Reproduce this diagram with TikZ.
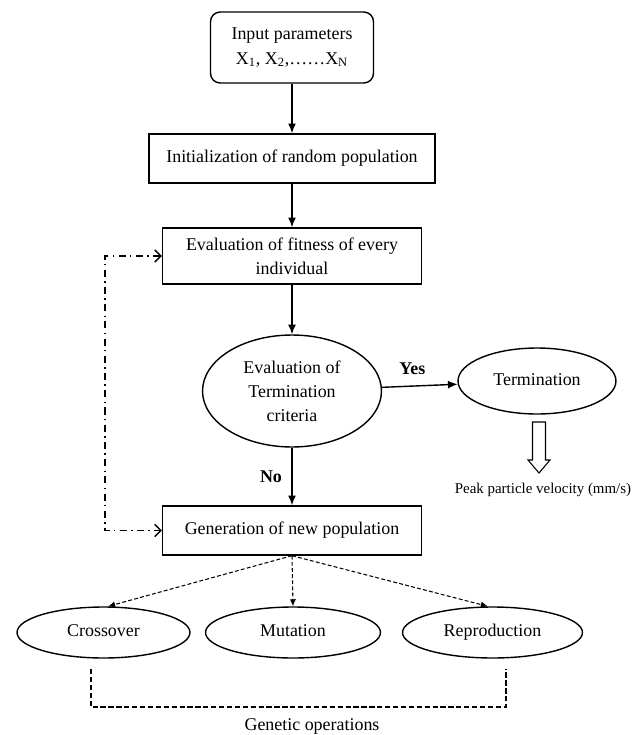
\documentclass[tikz,border=0pt]{standalone}
\usepackage{fontspec}
\setmainfont{Liberation Serif}
\usepackage{tikz}
\usetikzlibrary{arrows.meta,shapes.geometric,calc}

\begin{document}
\begin{tikzpicture}[x=0.02cm, y=-0.02cm, line width=0.8pt,
	font=\fontsize{10.2}{13.7}\selectfont,
	box/.style={draw, rectangle, inner sep=0pt, align=center},
	oval/.style={draw, ellipse, inner sep=0pt, align=center},
	one/.style={text height=7pt, text depth=2pt},
	arr/.style={-{Latex[length=5.5pt,width=4.5pt]}},
	darr/.style={-{Latex[length=4pt,width=3.5pt]}, line width=0.6pt, dash pattern=on 2.2pt off 1.3pt},
	loopline/.style={{Straight Barb[length=3.5pt,width=7pt]}-{Straight Barb[length=3.5pt,width=7pt]}, dash pattern=on 4pt off 2.5pt on 0.8pt off 2.5pt}]
	\useasboundingbox (0,0) rectangle (643,735);
	\node[box, rounded corners=5.5pt, minimum width=3.26cm, minimum height=1.42cm] (input) at (292,47.5) {Input parameters\\X\textsubscript{1}, X\textsubscript{2},……X\textsubscript{N}};
	\node[box, one, minimum width=5.72cm, minimum height=0.98cm] (init) at (292,158.5) {Initialization of random population};
	\node[box, minimum width=5.18cm, minimum height=1.12cm] (fit) at (292,256) {Evaluation of fitness of every\\individual};
	\node[oval, minimum width=3.58cm, minimum height=2.24cm] (eval) at (292,391) {Evaluation of\\Termination\\criteria};
	\node[oval, one, minimum width=3.16cm, minimum height=1.32cm] (term) at (537,381) {Termination};
	\node[box, one, minimum width=5.18cm, minimum height=0.98cm] (gen) at (292,530.5) {Generation of new population};
	\node[oval, one, minimum width=3.46cm, minimum height=1.02cm] (cross) at (103.5,632.5) {Crossover};
	\node[oval, one, minimum width=3.5cm, minimum height=1.02cm] (mut) at (293,632.5) {Mutation};
	\node[oval, one, minimum width=3.6cm, minimum height=1.02cm] (repro) at (492.5,632.5) {Reproduction};
	\node[font=\fontsize{8.5}{10}\selectfont] (ppv) at (543,490) {Peak particle velocity (mm/s)};
	\node (genop) at (312,726) {Genetic operations};
	\coordinate (loop) at (105,256);
	\coordinate (pk) at (539,422);
	\coordinate (opl) at (91,669);
	\coordinate (opr) at (506,669);

	\draw[arr] (input) -- (init);
	\draw[arr] (init) -- (fit);
	\draw[arr] (fit) -- (eval);
	\draw[arr] (eval) -- (term) node[pos=0.4, above=3pt] {\textbf{Yes}};
	\draw[arr] (eval) -- (gen) node[midway, left=2pt] {\textbf{No}};
	\draw[loopline] (fit.west) -- (loop) |- (gen.west);
	\draw[darr] (gen.south) -- (cross.80);
	\draw[darr] (gen.south) -- (mut.north);
	\draw[darr] (gen.south) -- (repro.100);
	\draw[line width=0.6pt] (pk) ++(-6.5,0) -- ++(0,38) -- ++(-4.5,0) -- ++(11,13) -- ++(11,-13) -- ++(-4.5,0) -- ++(0,-38) -- cycle;
	\draw[line width=0.9pt, dash pattern=on 3pt off 1.5pt] (opl) -- ++(0,38) -| (opr);
\end{tikzpicture}
\end{document}
